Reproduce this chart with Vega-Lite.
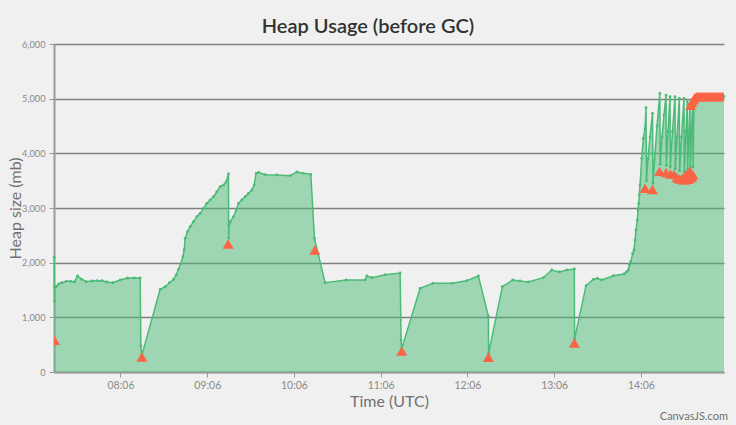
{
  "$schema": "https://vega.github.io/schema/vega-lite/v6.json",
  "autosize": {"type": "none"},
  "width": 670,
  "height": 328,
  "padding": {"left": 54, "top": 44, "right": 12, "bottom": 53},
  "background": "#f0f0f0",
  "config": {
    "font": "Lato",
    "view": {"stroke": null},
    "axis": {"labelFont": "Lato", "titleFont": "Lato"}
  },
  "title": {
    "text": "Heap Usage (before GC)",
    "fontSize": 20,
    "fontWeight": 600,
    "color": "#333333",
    "anchor": "middle",
    "dx": -21,
    "offset": 3
  },
  "datasets": {
    "heap": [
      {"t": "2024-01-01T07:20:09", "mb": 2100},
      {"t": "2024-01-01T07:20:18", "mb": 1290},
      {"t": "2024-01-01T07:20:30", "mb": 1560},
      {"t": "2024-01-01T07:21:32", "mb": 1560},
      {"t": "2024-01-01T07:23:08", "mb": 1610},
      {"t": "2024-01-01T07:25:29", "mb": 1633},
      {"t": "2024-01-01T07:28:27", "mb": 1658},
      {"t": "2024-01-01T07:31:42", "mb": 1658},
      {"t": "2024-01-01T07:34:11", "mb": 1646},
      {"t": "2024-01-01T07:36:16", "mb": 1756},
      {"t": "2024-01-01T07:39:18", "mb": 1695},
      {"t": "2024-01-01T07:42:17", "mb": 1652},
      {"t": "2024-01-01T07:46:13", "mb": 1664},
      {"t": "2024-01-01T07:49:41", "mb": 1670},
      {"t": "2024-01-01T07:53:08", "mb": 1670},
      {"t": "2024-01-01T07:56:36", "mb": 1646},
      {"t": "2024-01-01T08:00:45", "mb": 1633},
      {"t": "2024-01-01T08:05:48", "mb": 1683},
      {"t": "2024-01-01T08:10:50", "mb": 1719},
      {"t": "2024-01-01T08:15:28", "mb": 1719},
      {"t": "2024-01-01T08:19:37", "mb": 1719},
      {"t": "2024-01-01T08:20:06", "mb": 475},
      {"t": "2024-01-01T08:20:40", "mb": 300},
      {"t": "2024-01-01T08:33:27", "mb": 1512},
      {"t": "2024-01-01T08:36:55", "mb": 1560},
      {"t": "2024-01-01T08:39:53", "mb": 1633},
      {"t": "2024-01-01T08:42:39", "mb": 1695},
      {"t": "2024-01-01T08:44:31", "mb": 1774},
      {"t": "2024-01-01T08:46:06", "mb": 1878},
      {"t": "2024-01-01T08:47:46", "mb": 1988},
      {"t": "2024-01-01T08:49:09", "mb": 2109},
      {"t": "2024-01-01T08:50:03", "mb": 2231},
      {"t": "2024-01-01T08:50:44", "mb": 2445},
      {"t": "2024-01-01T08:52:20", "mb": 2566},
      {"t": "2024-01-01T08:54:12", "mb": 2658},
      {"t": "2024-01-01T08:56:29", "mb": 2749},
      {"t": "2024-01-01T08:58:50", "mb": 2841},
      {"t": "2024-01-01T09:01:07", "mb": 2902},
      {"t": "2024-01-01T09:03:24", "mb": 2994},
      {"t": "2024-01-01T09:05:45", "mb": 3085},
      {"t": "2024-01-01T09:08:02", "mb": 3146},
      {"t": "2024-01-01T09:10:19", "mb": 3207},
      {"t": "2024-01-01T09:12:40", "mb": 3298},
      {"t": "2024-01-01T09:14:57", "mb": 3390},
      {"t": "2024-01-01T09:17:14", "mb": 3420},
      {"t": "2024-01-01T09:19:06", "mb": 3481},
      {"t": "2024-01-01T09:20:41", "mb": 3622},
      {"t": "2024-01-01T09:20:49", "mb": 2450},
      {"t": "2024-01-01T09:21:02", "mb": 2689},
      {"t": "2024-01-01T09:21:52", "mb": 2749},
      {"t": "2024-01-01T09:24:08", "mb": 2841},
      {"t": "2024-01-01T09:26:00", "mb": 2963},
      {"t": "2024-01-01T09:27:36", "mb": 3085},
      {"t": "2024-01-01T09:29:57", "mb": 3146},
      {"t": "2024-01-01T09:32:14", "mb": 3207},
      {"t": "2024-01-01T09:34:31", "mb": 3268},
      {"t": "2024-01-01T09:36:52", "mb": 3329},
      {"t": "2024-01-01T09:38:27", "mb": 3420},
      {"t": "2024-01-01T09:39:50", "mb": 3634},
      {"t": "2024-01-01T09:41:26", "mb": 3652},
      {"t": "2024-01-01T09:46:04", "mb": 3609},
      {"t": "2024-01-01T09:54:09", "mb": 3603},
      {"t": "2024-01-01T10:03:21", "mb": 3591},
      {"t": "2024-01-01T10:07:59", "mb": 3658},
      {"t": "2024-01-01T10:12:33", "mb": 3634},
      {"t": "2024-01-01T10:17:40", "mb": 3615},
      {"t": "2024-01-01T10:20:09", "mb": 2445},
      {"t": "2024-01-01T10:27:33", "mb": 1633},
      {"t": "2024-01-01T10:42:04", "mb": 1683},
      {"t": "2024-01-01T10:55:13", "mb": 1683},
      {"t": "2024-01-01T10:56:23", "mb": 1756},
      {"t": "2024-01-01T10:59:51", "mb": 1725},
      {"t": "2024-01-01T11:09:02", "mb": 1780},
      {"t": "2024-01-01T11:19:25", "mb": 1811},
      {"t": "2024-01-01T11:20:06", "mb": 585},
      {"t": "2024-01-01T11:20:27", "mb": 420},
      {"t": "2024-01-01T11:33:15", "mb": 1531},
      {"t": "2024-01-01T11:42:02", "mb": 1622},
      {"t": "2024-01-01T11:55:10", "mb": 1622},
      {"t": "2024-01-01T12:05:32", "mb": 1670},
      {"t": "2024-01-01T12:13:33", "mb": 1756},
      {"t": "2024-01-01T12:20:28", "mb": 1024},
      {"t": "2024-01-01T12:20:37", "mb": 340},
      {"t": "2024-01-01T12:30:09", "mb": 1560},
      {"t": "2024-01-01T12:37:21", "mb": 1683},
      {"t": "2024-01-01T12:42:24", "mb": 1664},
      {"t": "2024-01-01T12:48:08", "mb": 1646},
      {"t": "2024-01-01T12:58:30", "mb": 1725},
      {"t": "2024-01-01T13:04:19", "mb": 1866},
      {"t": "2024-01-01T13:09:34", "mb": 1829},
      {"t": "2024-01-01T13:14:41", "mb": 1866},
      {"t": "2024-01-01T13:19:56", "mb": 1884},
      {"t": "2024-01-01T13:20:05", "mb": 600},
      {"t": "2024-01-01T13:28:02", "mb": 1579},
      {"t": "2024-01-01T13:33:05", "mb": 1695},
      {"t": "2024-01-01T13:35:51", "mb": 1713},
      {"t": "2024-01-01T13:38:53", "mb": 1683},
      {"t": "2024-01-01T13:46:55", "mb": 1762},
      {"t": "2024-01-01T13:54:19", "mb": 1792},
      {"t": "2024-01-01T13:56:11", "mb": 1835},
      {"t": "2024-01-01T13:57:17", "mb": 1866},
      {"t": "2024-01-01T13:57:58", "mb": 1957},
      {"t": "2024-01-01T13:58:57", "mb": 2018},
      {"t": "2024-01-01T14:00:20", "mb": 2171},
      {"t": "2024-01-01T14:01:13", "mb": 2231},
      {"t": "2024-01-01T14:01:55", "mb": 2414},
      {"t": "2024-01-01T14:02:36", "mb": 2597},
      {"t": "2024-01-01T14:03:30", "mb": 2780},
      {"t": "2024-01-01T14:03:59", "mb": 2963},
      {"t": "2024-01-01T14:04:28", "mb": 3085},
      {"t": "2024-01-01T14:04:53", "mb": 3237},
      {"t": "2024-01-01T14:05:22", "mb": 3420},
      {"t": "2024-01-01T14:06:33", "mb": 3908},
      {"t": "2024-01-01T14:07:39", "mb": 4274},
      {"t": "2024-01-01T14:08:50", "mb": 4457},
      {"t": "2024-01-01T14:09:31", "mb": 4835},
      {"t": "2024-01-01T14:09:52", "mb": 3500},
      {"t": "2024-01-01T14:10:54", "mb": 3900},
      {"t": "2024-01-01T14:12:17", "mb": 4300},
      {"t": "2024-01-01T14:14:01", "mb": 4731},
      {"t": "2024-01-01T14:14:22", "mb": 3450},
      {"t": "2024-01-01T14:15:45", "mb": 4000},
      {"t": "2024-01-01T14:17:08", "mb": 4500},
      {"t": "2024-01-01T14:19:04", "mb": 5097},
      {"t": "2024-01-01T14:19:20", "mb": 3800},
      {"t": "2024-01-01T14:20:35", "mb": 4300},
      {"t": "2024-01-01T14:21:58", "mb": 4700},
      {"t": "2024-01-01T14:23:21", "mb": 5066},
      {"t": "2024-01-01T14:23:34", "mb": 3780},
      {"t": "2024-01-01T14:24:44", "mb": 4400},
      {"t": "2024-01-01T14:26:07", "mb": 5036},
      {"t": "2024-01-01T14:26:20", "mb": 3750},
      {"t": "2024-01-01T14:27:51", "mb": 4400},
      {"t": "2024-01-01T14:29:35", "mb": 5036},
      {"t": "2024-01-01T14:29:47", "mb": 3720},
      {"t": "2024-01-01T14:30:57", "mb": 4300},
      {"t": "2024-01-01T14:32:33", "mb": 5006},
      {"t": "2024-01-01T14:32:45", "mb": 3680},
      {"t": "2024-01-01T14:34:04", "mb": 4300},
      {"t": "2024-01-01T14:35:48", "mb": 5006},
      {"t": "2024-01-01T14:36:00", "mb": 3660},
      {"t": "2024-01-01T14:37:11", "mb": 4400},
      {"t": "2024-01-01T14:38:05", "mb": 4945},
      {"t": "2024-01-01T14:38:17", "mb": 3700},
      {"t": "2024-01-01T14:39:15", "mb": 4400},
      {"t": "2024-01-01T14:39:57", "mb": 4914},
      {"t": "2024-01-01T14:40:09", "mb": 3750},
      {"t": "2024-01-01T14:40:59", "mb": 4400},
      {"t": "2024-01-01T14:41:49", "mb": 4975},
      {"t": "2024-01-01T14:42:01", "mb": 3750},
      {"t": "2024-01-01T14:42:43", "mb": 5000},
      {"t": "2024-01-01T14:43:24", "mb": 5040},
      {"t": "2024-01-01T14:46:52", "mb": 5040},
      {"t": "2024-01-01T14:50:19", "mb": 5045},
      {"t": "2024-01-01T14:53:47", "mb": 5040},
      {"t": "2024-01-01T14:57:14", "mb": 5045},
      {"t": "2024-01-01T15:00:42", "mb": 5040},
      {"t": "2024-01-01T15:03:28", "mb": 5040}
    ],
    "gc": [
      {"t": "2024-01-01T07:20:15", "mb": 580},
      {"t": "2024-01-01T08:20:48", "mb": 275},
      {"t": "2024-01-01T09:20:28", "mb": 2340},
      {"t": "2024-01-01T10:20:26", "mb": 2231},
      {"t": "2024-01-01T11:20:35", "mb": 385},
      {"t": "2024-01-01T12:20:28", "mb": 269},
      {"t": "2024-01-01T13:19:56", "mb": 530},
      {"t": "2024-01-01T14:08:50", "mb": 3360},
      {"t": "2024-01-01T14:14:01", "mb": 3340},
      {"t": "2024-01-01T14:18:51", "mb": 3670},
      {"t": "2024-01-01T14:23:21", "mb": 3650},
      {"t": "2024-01-01T14:26:28", "mb": 3620},
      {"t": "2024-01-01T14:28:53", "mb": 3615},
      {"t": "2024-01-01T14:30:57", "mb": 3560},
      {"t": "2024-01-01T14:32:41", "mb": 3530},
      {"t": "2024-01-01T14:34:25", "mb": 3540},
      {"t": "2024-01-01T14:35:48", "mb": 3512},
      {"t": "2024-01-01T14:37:11", "mb": 3615},
      {"t": "2024-01-01T14:38:46", "mb": 3524},
      {"t": "2024-01-01T14:39:57", "mb": 3676},
      {"t": "2024-01-01T14:40:18", "mb": 4880},
      {"t": "2024-01-01T14:40:59", "mb": 3560},
      {"t": "2024-01-01T14:41:20", "mb": 4930},
      {"t": "2024-01-01T14:42:01", "mb": 3603},
      {"t": "2024-01-01T14:42:22", "mb": 4980},
      {"t": "2024-01-01T14:43:24", "mb": 5020},
      {"t": "2024-01-01T14:44:47", "mb": 5040},
      {"t": "2024-01-01T14:46:10", "mb": 5040},
      {"t": "2024-01-01T14:47:33", "mb": 5040},
      {"t": "2024-01-01T14:48:56", "mb": 5040},
      {"t": "2024-01-01T14:50:19", "mb": 5040},
      {"t": "2024-01-01T14:51:42", "mb": 5040},
      {"t": "2024-01-01T14:53:05", "mb": 5040},
      {"t": "2024-01-01T14:54:28", "mb": 5040},
      {"t": "2024-01-01T14:55:51", "mb": 5040},
      {"t": "2024-01-01T14:57:14", "mb": 5040},
      {"t": "2024-01-01T14:58:37", "mb": 5040},
      {"t": "2024-01-01T15:00:00", "mb": 5040},
      {"t": "2024-01-01T15:01:23", "mb": 5040},
      {"t": "2024-01-01T15:02:46", "mb": 5040}
    ]
  },
  "layer": [
    {
      "data": {"name": "heap"},
      "mark": {
        "type": "area",
        "color": "#4cbb78",
        "fillOpacity": 0.5,
        "line": {"color": "#4cbb78", "strokeWidth": 1.5},
        "point": {"color": "#4cbb78", "filled": true, "size": 8, "opacity": 1}
      },
      "encoding": {
        "x": {
          "field": "t",
          "type": "temporal",
          "title": "Time (UTC)",
          "scale": {
            "domain": [
              {"year": 2024, "month": 1, "date": 1, "hours": 7, "minutes": 20, "seconds": 0},
              {"year": 2024, "month": 1, "date": 1, "hours": 15, "minutes": 3, "seconds": 28}
            ],
            "nice": false
          },
          "axis": {
            "values": [
              {"year": 2024, "month": 1, "date": 1, "hours": 8, "minutes": 6},
              {"year": 2024, "month": 1, "date": 1, "hours": 9, "minutes": 6},
              {"year": 2024, "month": 1, "date": 1, "hours": 10, "minutes": 6},
              {"year": 2024, "month": 1, "date": 1, "hours": 11, "minutes": 6},
              {"year": 2024, "month": 1, "date": 1, "hours": 12, "minutes": 6},
              {"year": 2024, "month": 1, "date": 1, "hours": 13, "minutes": 6},
              {"year": 2024, "month": 1, "date": 1, "hours": 14, "minutes": 6}
            ],
            "format": "%H:%M",
            "grid": false,
            "domainColor": "#9a9a9a",
            "domainWidth": 2,
            "tickColor": "#9a9a9a",
            "tickSize": 5,
            "tickWidth": 1,
            "labelColor": "#8a8a8a",
            "labelFontSize": 10.5,
            "labelPadding": 3,
            "labelFlush": false,
            "titleColor": "#707070",
            "titleFontSize": 16,
            "titleFontWeight": "normal",
            "titleY": 29,
            "titleBaseline": "middle"
          }
        },
        "y": {
          "field": "mb",
          "type": "quantitative",
          "title": "Heap size (mb)",
          "scale": {"domain": [0, 6000], "nice": false},
          "axis": {
            "values": [0, 1000, 2000, 3000, 4000, 5000, 6000],
            "format": ",d",
            "gridColor": "#808080",
            "gridWidth": 1.6,
            "domainColor": "#9a9a9a",
            "domainWidth": 2,
            "tickColor": "#9a9a9a",
            "tickSize": 5,
            "labelColor": "#8a8a8a",
            "labelFontSize": 9.2,
            "labelPadding": 4,
            "titleColor": "#707070",
            "titleFontSize": 16,
            "titleFontWeight": "normal",
            "titleX": -39,
            "titleY": 164,
            "titleAngle": 270,
            "titleAlign": "center",
            "titleBaseline": "middle"
          }
        }
      }
    },
    {
      "data": {"name": "gc"},
      "mark": {"type": "point", "shape": "triangle-up", "filled": true, "color": "#fa6445", "size": 120, "opacity": 1, "clip": true},
      "encoding": {
        "x": {"field": "t", "type": "temporal"},
        "y": {"field": "mb", "type": "quantitative"}
      }
    },
    {
      "data": {"values": [{"label": "CanvasJS.com"}]},
      "mark": {"type": "text", "align": "right", "baseline": "middle", "fontSize": 11, "color": "#707070", "dx": 4},
      "encoding": {
        "x": {"datum": {"year": 2024, "month": 1, "date": 1, "hours": 15, "minutes": 3, "seconds": 28}, "type": "temporal"},
        "y": {"datum": -820, "type": "quantitative"},
        "text": {"field": "label"}
      }
    }
  ]
}
